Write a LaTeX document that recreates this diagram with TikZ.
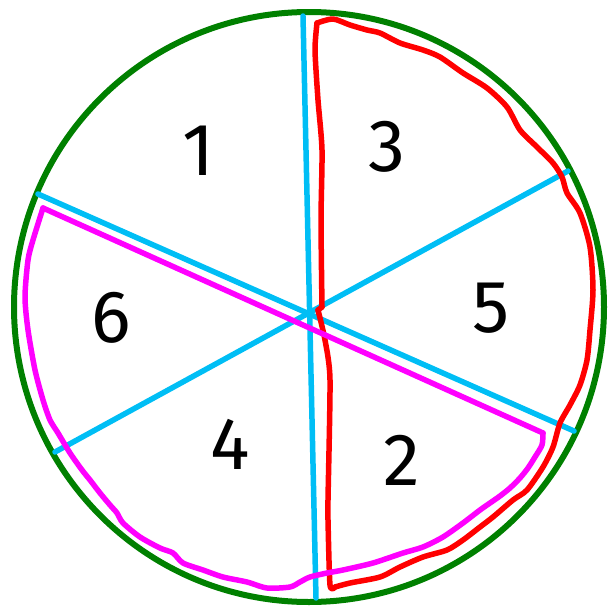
\documentclass[tikz,border=0pt]{standalone}
\usepackage{fontspec}
\setmainfont{Fira Sans}
\definecolor{cgreen}{RGB}{0,128,0}
\definecolor{cblue}{RGB}{0,190,245}
\definecolor{cred}{RGB}{255,0,0}
\definecolor{cmag}{RGB}{255,0,255}
\tikzset{
  numlabel/.style={font=\fontsize{74}{74}\selectfont, text=black, inner sep=0pt},
  rim/.style={draw=cgreen, line width=6pt},
  chord/.style={draw=cblue, line width=5.5pt, line cap=round},
  redloop/.style={draw=cred, line width=5.5pt, line join=round, line cap=round},
  magloop/.style={draw=cmag, line width=5.5pt, line join=round, line cap=round},
}
\begin{document}
\begin{tikzpicture}[x=1pt,y=-1pt]
\useasboundingbox (0,0) rectangle (611,608);
% outer circle
\draw[rim] (309,307) circle (295);
% chord end points
\coordinate (vt) at (303,16);
\coordinate (vb) at (316,598);
\coordinate (at) at (38,194);
\coordinate (ab) at (574,431);
\coordinate (bt) at (568,171);
\coordinate (bb) at (55,452);
\draw[chord] (vt) -- (vb);
\draw[chord] (at) -- (ab);
\draw[chord] (bt) -- (bb);
% red loop
\draw[redloop] plot[smooth, tension=0.45] coordinates {
 (317,23) (333,19) (350,25) (367,30) (380,33) (400,43) (423,50) (440,57)
 (463,73) (487,88) (507,107) (520,130) (537,147) (553,163) (562,177)
 (567,193) (580,213) (590,247) (593,290) (590,330) (587,360) (580,385)
 (570,405) (560,423) (553,447) (543,467) (527,490) (513,500) (493,517)
 (480,527) (463,540) (447,550) (423,557) (400,567) (380,577) (350,583)
 (335,587)};
\draw[redloop] plot[smooth, tension=0.4] coordinates {
 (335,587) (330,585) (328,520) (328,500) (330,380) (325,340) (318,310)};
\draw[redloop] (318,310) -- (322,307);
\draw[redloop] plot[smooth, tension=0.4] coordinates {
 (322,307) (321,220) (322,150) (318,100) (315,50) (317,23)};
% magenta loop
\draw[magloop] (43,208) -- (543,433);
\draw[magloop] plot[smooth, tension=0.45] coordinates {
 (543,433) (542,445) (535,457) (528,468) (520,478) (510,488) (500,496)
 (490,503) (480,510) (463,523) (443,537) (423,547) (403,553) (373,563)
 (343,570) (327,573) (310,577) (300,582) (290,587) (267,588) (247,582)
 (223,577) (203,570) (183,563) (173,553) (160,548) (140,537) (123,523)
 (117,513) (110,505) (100,493) (90,480) (82,470) (70,453) (58,433)
 (50,420) (43,400) (35,370) (28,330) (25,297) (28,260) (33,240) (43,208)};
% numbers
\node[numlabel] (n1) at (199,151) {1};
\node[numlabel] (n3) at (387,147) {3};
\node[numlabel] (n6) at (111,318) {6};
\node[numlabel] (n5) at (491,308) {5};
\node[numlabel] (n4) at (230,444) {4};
\node[numlabel] (n2) at (402,460) {2};
\end{tikzpicture}
\end{document}
